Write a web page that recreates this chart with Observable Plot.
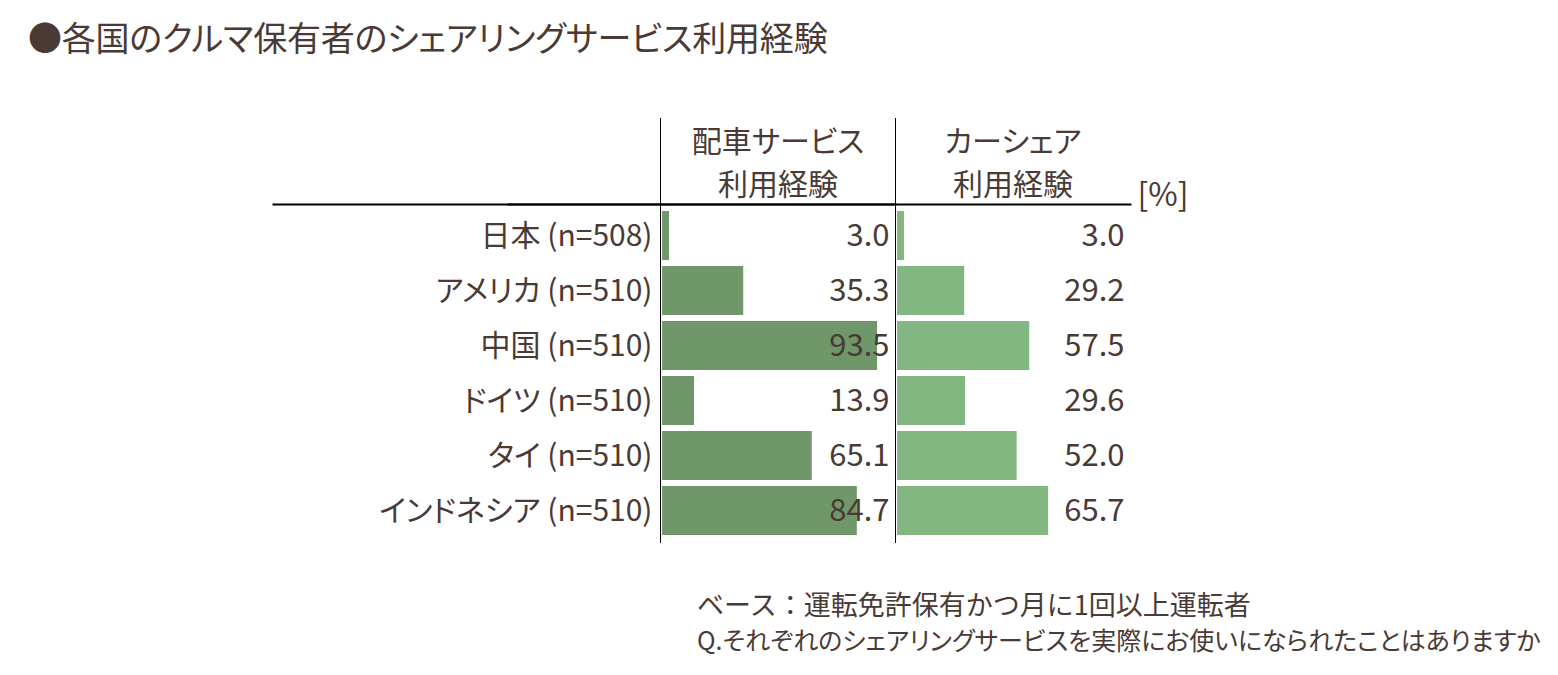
<!DOCTYPE html>
<html>
<head>
<meta charset="utf-8">
<script src="https://cdn.jsdelivr.net/npm/d3@7"></script>
<script src="https://cdn.jsdelivr.net/npm/@observablehq/plot@0.6"></script>
<style>
  html, body { margin: 0; padding: 0; background: #fff; }
  #wrap { position: relative; width: 1558px; height: 675px; overflow: hidden;
    font-family: "Noto Sans CJK JP", sans-serif; color: #4a3a35; }
  #title { position: absolute; left: 28px; top: 17px; font-size: 34px; line-height: 40px; white-space: nowrap; font-feature-settings: "palt"; letter-spacing: -0.2px; }
  #chart { position: absolute; left: 0; top: 0; }
  #note1 { position: absolute; left: 697px; top: 586px; font-size: 27px; line-height: 36px; white-space: nowrap; }
  #note2 { position: absolute; left: 697px; top: 621px; font-size: 25px; line-height: 36px; white-space: nowrap; font-feature-settings: "palt"; }
  svg text { font-feature-settings: "palt"; }
</style>
</head>
<body>
<div id="wrap">
  <div id="chart"></div>
  <div id="title">●各国のクルマ保有者のシェアリングサービス利用経験</div>
  <div id="note1">ベース：運転免許保有かつ月に1回以上運転者</div>
  <div id="note2">Q.それぞれのシェアリングサービスを実際にお使いになられたことはありますか</div>
</div>
<script>
const countries = ["日本 (n=508)", "アメリカ (n=510)", "中国 (n=510)", "ドイツ (n=510)", "タイ (n=510)", "インドネシア (n=510)"];
const services = ["配車サービス\n利用経験", "カーシェア\n利用経験"];
const rideHailing = [3.0, 35.3, 93.5, 13.9, 65.1, 84.7];
const carSharing = [3.0, 29.2, 57.5, 29.6, 52.0, 65.7];
const unitLabel = "[%]";
const seriesColors = ["#6f976a", "#83b782"];

const seriesValues = [rideHailing, carSharing];
const rows = services.flatMap((s, i) => countries.map((c, j) => ({service: s, country: c, value: seriesValues[i][j]})));

const chart = Plot.plot({
  width: 1558,
  height: 560,
  marginTop: 204,
  marginBottom: 18,
  marginLeft: 660,
  marginRight: 428,
  style: {fontFamily: '"Noto Sans CJK JP", sans-serif', fontSize: "30px", color: "#4a3a35", background: "#fff"},
  fx: {domain: services, padding: 0, axis: null},
  x: {domain: [-0.9, 101.3], axis: null},
  y: {domain: countries, padding: 0.11, label: null, tickSize: 0, tickPadding: 8},
  color: {domain: services, range: seriesColors},
  marks: [
    Plot.barX(rows, {fx: "service", y: "country", x: "value", fill: "service"}),
    Plot.text(rows, {fx: "service", y: "country", text: d => d.value.toFixed(1), frameAnchor: "right", textAnchor: "end", dx: -6, fontSize: 31, fill: "#4a3a35"}),
    Plot.text(services, {fx: d => d, text: d => d, frameAnchor: "top", lineAnchor: "bottom", dy: -10, lineHeight: 1.43, fill: "#4a3a35"}),
    Plot.text(services.slice(1), {fx: d => d, text: () => unitLabel, frameAnchor: "top-right", textAnchor: "start", lineAnchor: "middle", dx: 7, dy: -9, fontSize: 32, fill: "#4a3a35"}),
    Plot.frame({anchor: "left", insetTop: -86, stroke: "#000", strokeWidth: 1}),
    Plot.frame({anchor: "top", insetLeft: -387, stroke: "#000", strokeWidth: 2})
  ]
});
document.getElementById("chart").appendChild(chart);
</script>
</body>
</html>
